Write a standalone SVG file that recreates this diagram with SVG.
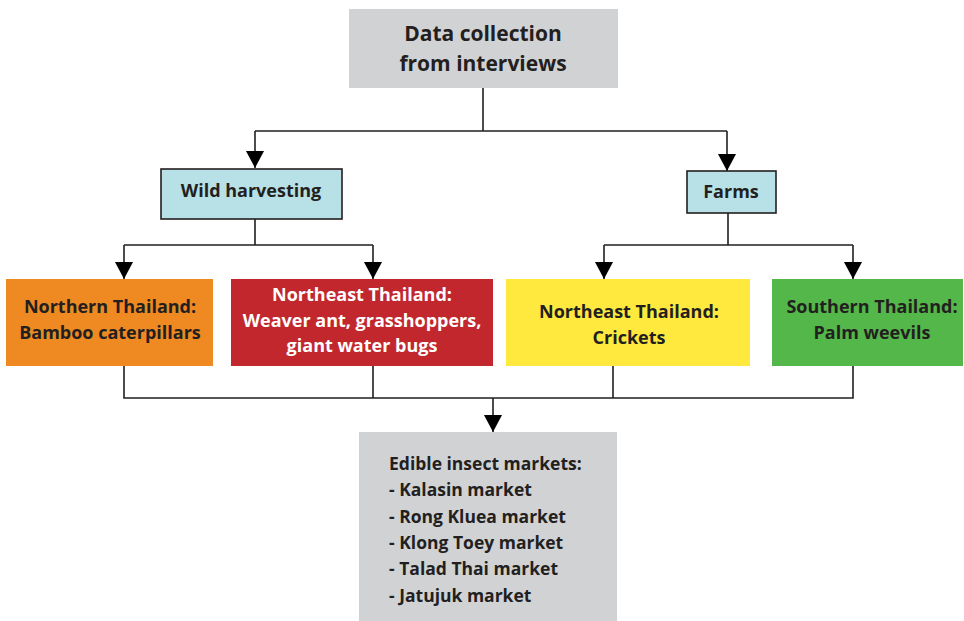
<svg xmlns="http://www.w3.org/2000/svg" width="964" height="621" viewBox="0 0 964 621">
<style>
.t{font-family:"Open Sans","Liberation Sans",sans-serif;font-weight:bold;fill:#231f20;}
.c{text-anchor:middle;font-size:18px;}
.w{fill:#ffffff;}
.ln{fill:none;stroke:#231f20;stroke-width:1.6;}
.bx{stroke:#231f20;stroke-width:1.6;fill:#b7e1e6;}
</style>
<defs>
<marker id="ah" markerUnits="userSpaceOnUse" markerWidth="18" markerHeight="18" refX="17" refY="9" orient="auto">
<path d="M0,0 L17,9 L0,18 z" fill="#000"/>
</marker>
</defs>
<g id="connectors">
<path class="ln" d="M483,88 V131 M255,131 H727"/>
<path class="ln" d="M255,131 V168" marker-end="url(#ah)"/>
<path class="ln" d="M727,131 V171" marker-end="url(#ah)"/>
<path class="ln" d="M255,219 V245 M124,245 H373"/>
<path class="ln" d="M124,245 V279" marker-end="url(#ah)"/>
<path class="ln" d="M373,245 V279" marker-end="url(#ah)"/>
<path class="ln" d="M728,213 V245 M604,245 H853"/>
<path class="ln" d="M604,245 V279" marker-end="url(#ah)"/>
<path class="ln" d="M853,245 V279" marker-end="url(#ah)"/>
<path class="ln" d="M124,366 V398 H853 V366 M373,366 V398 M613,366 V398"/>
<path class="ln" d="M493,398 V432" marker-end="url(#ah)"/>
</g>
<g id="data-collection">
<rect x="349" y="9" width="269" height="79" fill="#d1d2d4"/>
<text class="t" x="483" y="41" text-anchor="middle" font-size="21">Data collection</text>
<text class="t" x="483" y="71" text-anchor="middle" font-size="21">from interviews</text>
</g>
<g id="wild-harvesting">
<rect class="bx" x="161" y="169" width="181" height="50"/>
<text class="t c" x="251" y="197">Wild harvesting</text>
</g>
<g id="farms">
<rect class="bx" x="687" y="171" width="89" height="42"/>
<text class="t c" x="731" y="198">Farms</text>
</g>
<g id="northern">
<rect x="6" y="279" width="207" height="87" fill="#ef8a22"/>
<text class="t c" x="110" y="313">Northern Thailand:</text>
<text class="t c" x="110" y="339">Bamboo caterpillars</text>
</g>
<g id="northeast-wild">
<rect x="231" y="279" width="262" height="87" fill="#c1272d"/>
<text class="t c w" x="362" y="301">Northeast Thailand:</text>
<text class="t c w" x="362" y="327">Weaver ant, grasshoppers,</text>
<text class="t c w" x="362" y="352">giant water bugs</text>
</g>
<g id="northeast-farm">
<rect x="506" y="279" width="244" height="87" fill="#ffe93e"/>
<text class="t c" x="629" y="318">Northeast Thailand:</text>
<text class="t c" x="629" y="344">Crickets</text>
</g>
<g id="southern">
<rect x="772" y="279" width="191" height="87" fill="#54b74a"/>
<text class="t c" x="872" y="313">Southern Thailand:</text>
<text class="t c" x="872" y="339">Palm weevils</text>
</g>
<g id="markets">
<rect x="359" y="432" width="258" height="189" fill="#d1d2d4"/>
<text class="t" font-size="17.5" x="389" y="470">Edible insect markets:</text>
<text class="t" font-size="17.5" x="389" y="496">- Kalasin market</text>
<text class="t" font-size="17.5" x="389" y="523">- Rong Kluea market</text>
<text class="t" font-size="17.5" x="389" y="549">- Klong Toey market</text>
<text class="t" font-size="17.5" x="389" y="575">- Talad Thai market</text>
<text class="t" font-size="17.5" x="389" y="602">- Jatujuk market</text>
</g>
</svg>
